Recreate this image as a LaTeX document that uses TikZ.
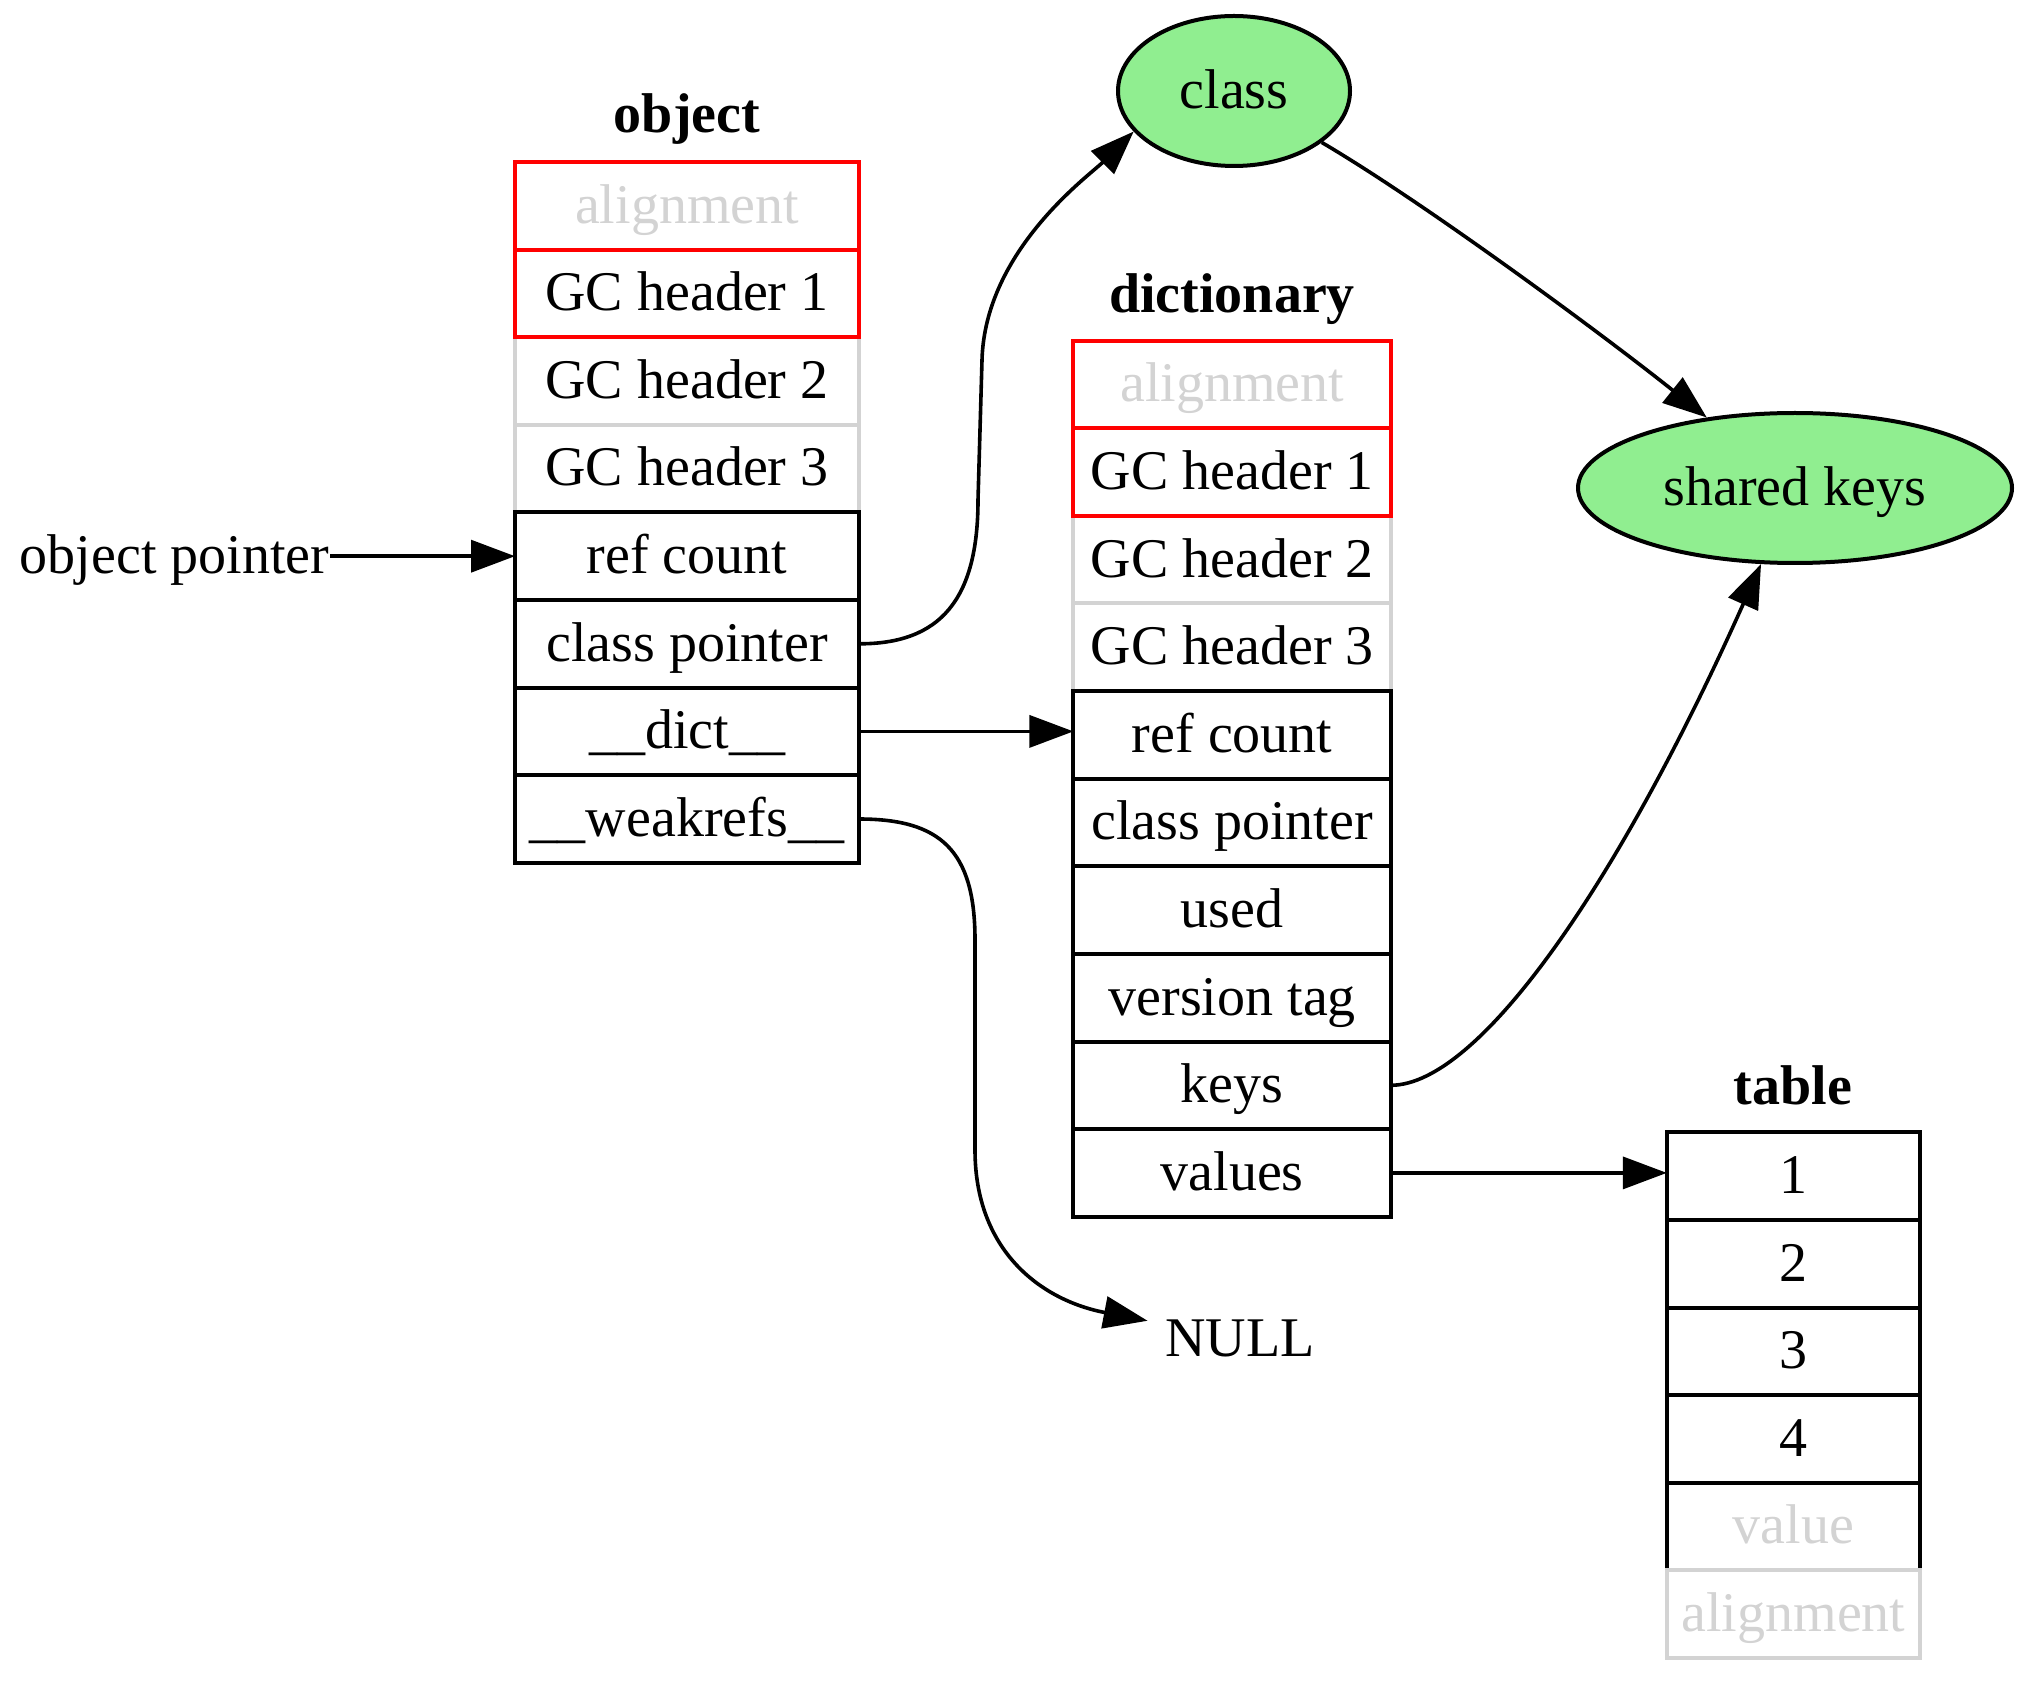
\documentclass[tikz,border=0pt]{standalone}
\usepackage{fontspec}
\setmainfont{Liberation Serif}
\usetikzlibrary{arrows.meta,shapes.geometric,positioning}
\definecolor{lgray}{HTML}{D3D3D3}
\definecolor{lgreen}{HTML}{90EE90}
\begin{document}
\begin{tikzpicture}[x=0.25pt,y=-0.25pt,
  base/.style={font=\fontsize{14pt}{16.8pt}\selectfont, text height=10.5pt, text depth=1.8pt},
  cell/.style={base, rectangle, draw=black, line width=1pt, inner sep=0pt, outer sep=0pt, minimum height=21.9pt},
  redcell/.style={cell, draw=red},
  graycell/.style={cell, draw=lgray},
  faint/.style={text=lgray},
  objcol/.style={minimum width=86pt},
  dictcol/.style={minimum width=79.4pt},
  tabcol/.style={minimum width=63.3pt},
  title/.style={font=\fontsize{14pt}{16.8pt}\selectfont\bfseries, anchor=base, inner sep=0pt},
  blob/.style={base, ellipse, draw=black, fill=lgreen, line width=1pt, inner sep=0pt, minimum height=37.5pt},
  plain/.style={base, inner sep=0pt},
  edge/.style={line width=0.9pt, -{Triangle[length=11pt,width=8pt]}}
]
\useasboundingbox (0,0) rectangle (2025,1690);

% ---- object layout ----
\node[title] (otitle) at (687,133) {object};
\node[graycell, objcol] (o2) at (687,381) {GC header 2};
\node[graycell, objcol, below=0pt of o2] (o3) {GC header 3};
\node[redcell, objcol, above=0pt of o2] (o1) {GC header 1};
\node[redcell, objcol, faint, above=0pt of o1] (o0) {alignment};
\node[cell, objcol, below=0pt of o3] (o4) {ref count};
\node[cell, objcol, below=0pt of o4] (o5) {class pointer};
\node[cell, objcol, below=0pt of o5] (o6) {\_\_dict\_\_};
\node[cell, objcol, below=0pt of o6] (o7) {\_\_weakrefs\_\_};

% ---- dictionary layout ----
\node[title] (dtitle) at (1232,313) {dictionary};
\node[graycell, dictcol] (d2) at (1232.2,559.7) {GC header 2};
\node[graycell, dictcol, below=0pt of d2] (d3) {GC header 3};
\node[redcell, dictcol, above=0pt of d2] (d1) {GC header 1};
\node[redcell, dictcol, faint, above=0pt of d1] (d0) {alignment};
\node[cell, dictcol, below=0pt of d3] (d4) {ref count};
\node[cell, dictcol, below=0pt of d4] (d5) {class pointer};
\node[cell, dictcol, below=0pt of d5] (d6) {used};
\node[cell, dictcol, below=0pt of d6] (d7) {version tag};
\node[cell, dictcol, below=0pt of d7] (d8) {keys};
\node[cell, dictcol, below=0pt of d8] (d9) {values};

% ---- values table ----
\node[title] (ttitle) at (1793,1104) {table};
\node[cell, tabcol] (t0) at (1793.4,1176.1) {1};
\node[cell, tabcol, below=0pt of t0] (t1) {2};
\node[cell, tabcol, below=0pt of t1] (t2) {3};
\node[cell, tabcol, below=0pt of t2] (t3) {4};
\node[cell, tabcol, faint, below=0pt of t3] (t4) {value};
\node[graycell, tabcol, faint, below=0pt of t4] (t5) {alignment};

% ---- other nodes ----
\node[blob, minimum width=58pt] (cls) at (1234,91) {class};
\node[blob, minimum width=108.5pt] (sk) at (1795,488) {shared keys};
\node[plain, left=46.25pt of o4] (op) {object pointer};
\node[plain, inner sep=4.25pt] (null) at (1240,1338.6) {NULL};

% ---- pointers ----
\draw[edge] (op.east) -- (o4.west);
\draw[edge] (o5.east) .. controls (940,644) and (978,600) .. (978,500)
  -- (982,360) .. controls (985,250) and (1090,175) .. (cls.202);
\draw[edge] (o6.east) -- (o6.east -| d4.west);
\draw[edge] (o7.east) .. controls (940,819) and (975,850) .. (975,940)
  -- (975,1150) .. controls (975,1250) and (1040,1300) .. (null);
\draw[edge] (cls) .. controls (1425,203) and (1606,337) .. (sk);
\draw[edge] (d8.east) .. controls (1480,1085) and (1620,880) .. (sk);
\draw[edge] (d9.east) -- (d9.east -| t0.west);
\end{tikzpicture}
\end{document}
